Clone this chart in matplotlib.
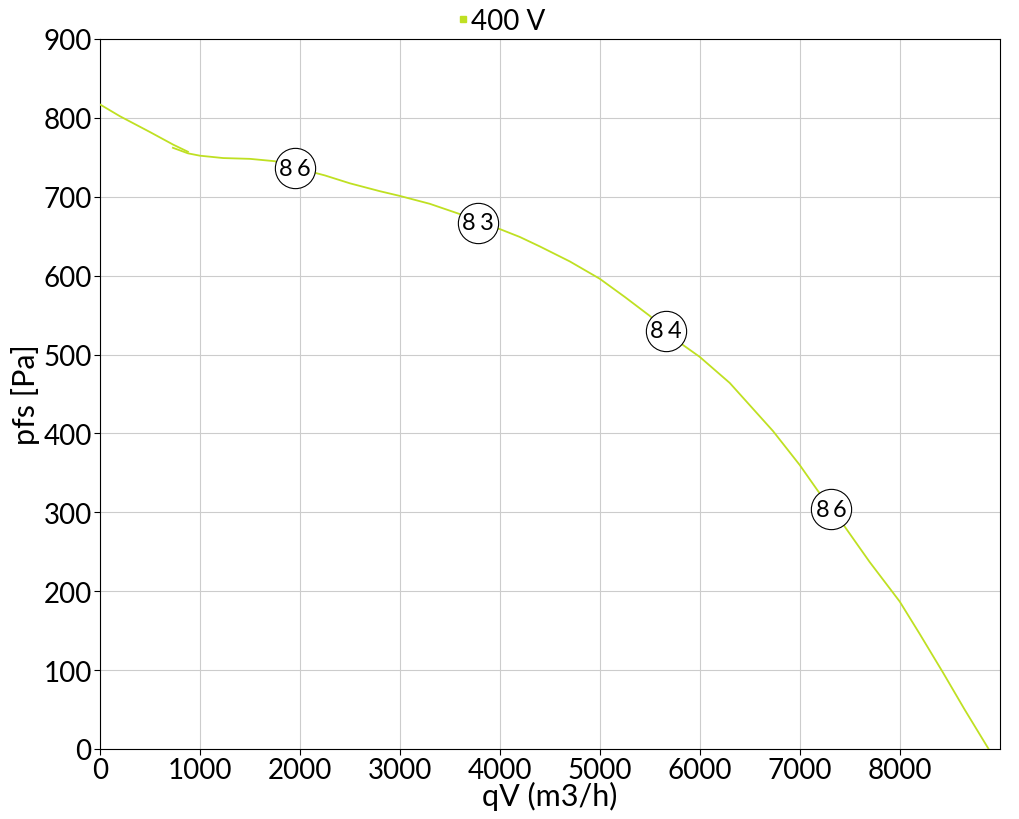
import numpy as np
import matplotlib.pyplot as plt

plt.rcParams['font.family'] = ['Lato', 'DejaVu Sans']

# curve (two overlapping pieces, like the original)
qv_a = [0, 200, 500, 733, 880]
pfs_a = [817, 802, 782, 766, 757]
qv_b = [730, 880, 1000, 1233, 1500, 1750, 1950, 2250, 2500, 2800, 3000, 3300,
        3600, 3800, 4000, 4200, 4400, 4700, 5000, 5250, 5500, 5660, 5800,
        6000, 6300, 6733, 7000, 7183, 7320, 7433, 7700, 8000, 8200, 8433, 8650, 8890]
pfs_b = [762, 755, 752, 749, 748, 745, 737, 727, 717, 707, 701, 691,
         678, 668, 659, 649, 637, 618, 596, 573, 549, 531, 515,
         497, 464, 403, 360, 327, 305, 285, 237, 187, 146, 97, 50, 0]

# efficiency labels
lab_q = [1950, 3780, 5660, 7317]
lab_p = [736, 667, 530, 304]
lab_txt = ["86", "83", "84", "86"]

fig = plt.figure(figsize=(10.2, 8.2), dpi=100)
ax = fig.add_axes([0.098, 0.0854, 0.882, 0.8659])

col = '#bfe022'
ax.plot(qv_a, pfs_a, color=col, lw=1.3, zorder=3)
ax.plot(qv_b, pfs_b, color=col, lw=1.3, zorder=3)

for q, p, t in zip(lab_q, lab_p, lab_txt):
    ax.plot(q, p, 'o', ms=29, mfc='white', mec='black', mew=0.8, zorder=4)
    # digits drawn a bit apart, as in the original
    for ch, dx in zip(t, (-6.3, 6.3)):
        ax.annotate(ch, (q, p), xytext=(dx, 0), textcoords='offset points',
                    ha='center', va='center', fontsize=17, zorder=5)

ax.set_xlim(0, 9000)
ax.set_ylim(0, 900)
ax.set_xticks(range(0, 9000, 1000))
ax.set_yticks(range(0, 901, 100))
ax.tick_params(labelsize=20, length=4, pad=2)
ax.grid(True, color='#cccccc', lw=0.8)
ax.set_axisbelow(True)
ax.set_xlabel('qV (m3/h)', fontsize=22, labelpad=-2)
ax.set_ylabel('pfs [Pa]', fontsize=22, labelpad=2)

h = [plt.Line2D([], [], marker='s', ls='', color=col, ms=5)]
fig.legend(h, ['400 V'], loc='center', bbox_to_anchor=(0.49, 0.973), frameon=False,
           fontsize=20, handletextpad=0.0, handlelength=0.6, borderpad=0)

fig.savefig('out.png', dpi=100)
